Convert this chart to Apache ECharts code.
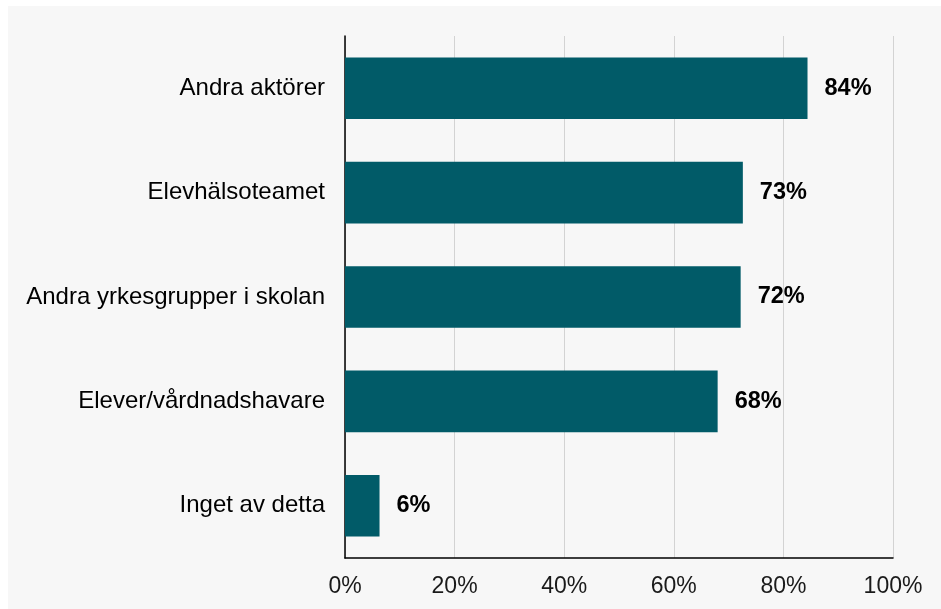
<!DOCTYPE html>
<html>
<head>
<meta charset="utf-8">
<script src="https://cdn.jsdelivr.net/npm/echarts@6/dist/echarts.min.js"></script>
<style>
  html, body { margin: 0; padding: 0; background: #ffffff; }
  #chart { position: absolute; left: 8px; top: 6px; width: 933px; height: 603px; }
</style>
</head>
<body>
<div id="chart"></div>
<script>
// categories listed top to bottom
const categories = [
  'Andra aktörer',
  'Elevhälsoteamet',
  'Andra yrkesgrupper i skolan',
  'Elever/vårdnadshavare',
  'Inget av detta'
]
const values = [84.4, 72.6, 72.2, 68.0, 6.3]
const tickValues = [0, 20, 40, 60, 80, 100]

const myChart = echarts.init(document.getElementById('chart'))

const option = {
  backgroundColor: '#f7f7f7',
  animation: false,
  grid: {
    left: 337,
    right: 48,
    top: 30,
    bottom: 51,
    containLabel: false
  },
  xAxis: {
    type: 'value',
    min: tickValues[0],
    max: tickValues[tickValues.length - 1],
    interval: 20,
    axisLine: { show: true, lineStyle: { color: '#000', width: 1.5 } },
    axisTick: { show: false },
    splitLine: { show: true, lineStyle: { color: '#d3d3d3', width: 1 } },
    axisLabel: {
      formatter: '{value}%',
      margin: 17,
      color: '#1a1a1a',
      fontSize: 23,
      fontFamily: 'Liberation Sans, Arial, sans-serif'
    }
  },
  yAxis: {
    type: 'category',
    data: categories,
    inverse: true,
    axisLine: { show: true, lineStyle: { color: '#000', width: 1.5 } },
    axisTick: { show: false },
    axisLabel: {
      margin: 20,
      color: '#000',
      fontSize: 24,
      fontFamily: 'Liberation Sans, Arial, sans-serif'
    }
  },
  series: [
    {
      type: 'bar',
      data: values,
      barCategoryGap: '41%',
      itemStyle: { color: '#015b68' },
      label: {
        show: true,
        position: 'right',
        distance: 17,
        formatter: p => Math.round(p.value) + '%',
        color: '#000',
        fontWeight: 'bold',
        fontSize: 23.5,
        fontFamily: 'Liberation Sans, Arial, sans-serif'
      }
    }
  ]
}

myChart.setOption(option)
window.addEventListener('resize', () => myChart.resize())
</script>
</body>
</html>
